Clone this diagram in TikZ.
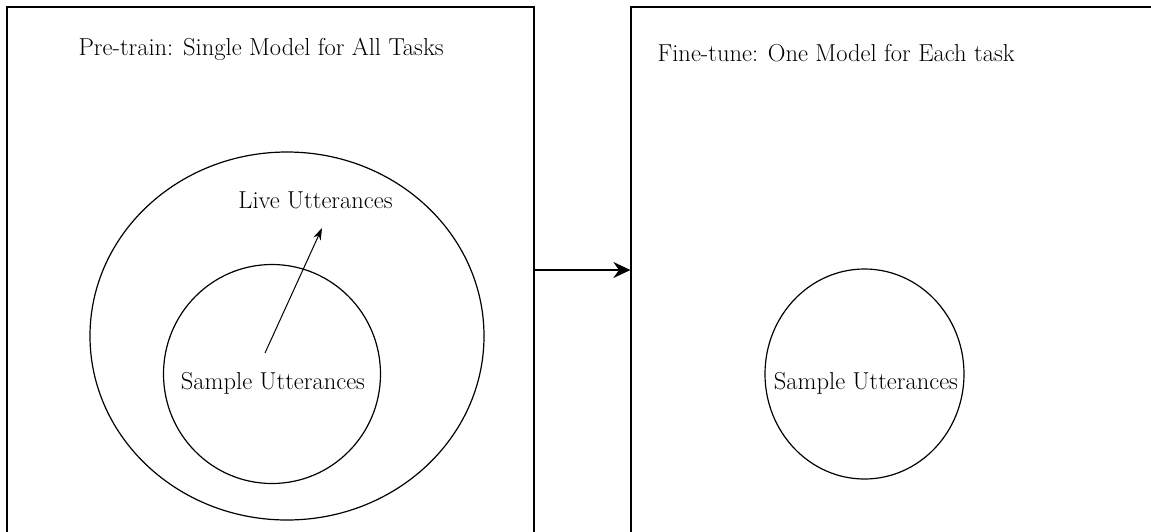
\documentclass[tikz,border=0pt]{standalone}
\usepackage{tikz}
\usetikzlibrary{arrows.meta, shapes.geometric, positioning}

\begin{document}
\begin{tikzpicture}[x=1pt, y=-1pt, line width=1.2pt,
 txt/.style={font=\fontsize{24.5}{28}\selectfont, inner sep=0pt},
 panel/.style={draw, rectangle, inner sep=0pt},
 pool/.style={draw, ellipse, inner sep=0pt}]
  \useasboundingbox (0,0) rectangle (1151,531);
  \clip (0,0) rectangle (1151,531);

  % the two stages
  \node[panel, minimum width=527pt, minimum height=526pt] (pretrain) at (270.5,270) {};
  \node[panel, minimum width=540pt, minimum height=526pt] (finetune) at (901,270) {};
  \node[txt, anchor=base west] (ptitle) at (78,55) {Pre-train: Single Model for All Tasks};
  \node[txt, anchor=base west] (ftitle) at (657,61) {Fine-tune: One Model for Each task};

  % pre-train pools
  \node[pool, minimum width=394pt, minimum height=368pt] (livepool) at (287,336) {};
  \node[pool, minimum width=217pt, minimum height=219pt] (samplepool) at (272,374) {};
  \node[txt] (live) at (315.5,200) {Live Utterances};
  \node[txt] (sample) at (273,383) {Sample Utterances};
  \coordinate (from) at (265,353);
  \coordinate (to) at (322,228);
  \draw[-{Stealth[length=12pt, width=8pt]}, line width=1pt] (from) -- (to);

  % fine-tune pool
  \node[pool, minimum width=199pt, minimum height=210pt] (taskpool) at (864.5,374) {};
  \node[txt] (tasksample) at (866,383) {Sample Utterances};

  \draw[-{Stealth[length=17pt, width=16pt]}] (pretrain.east) -- (finetune.west);
\end{tikzpicture}
\end{document}
